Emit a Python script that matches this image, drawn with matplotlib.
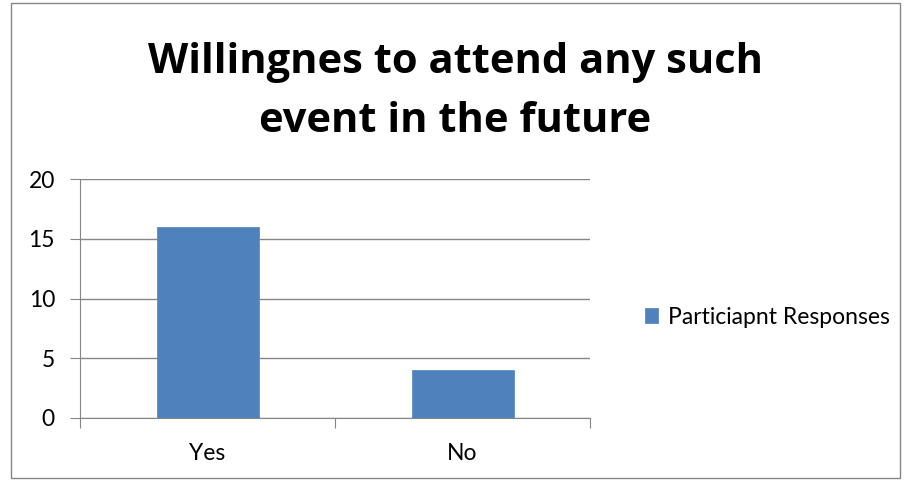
import matplotlib.pyplot as plt
from matplotlib.patches import Rectangle

plt.rcParams['font.family'] = ['Lato', 'DejaVu Sans']

categories = ['Yes', 'No']
responses = [16, 4]
series_name = 'Particiapnt Responses'
title = 'Willingnes to attend any such\nevent in the future'
y_ticks = [0, 5, 10, 15, 20]

bar_color = '#4f81bd'
grid_color = '#868686'

fig = plt.figure(figsize=(9.06, 4.8), dpi=100)
# chart border
fig.patches.append(Rectangle((11 / 906, 2 / 480), 889 / 906, 475 / 480, transform=fig.transFigure,
                             fill=False, edgecolor=grid_color, linewidth=1))

ax = fig.add_axes([80 / 906, 1 - 418 / 480, 510 / 906, 239 / 480])
x = list(range(len(categories)))
ax.bar(x, responses, width=0.4, color=bar_color, edgecolor='#5b8cc6', linewidth=0.6,
       label=series_name, zorder=3)

ax.set_xlim(-0.5, len(categories) - 0.5)
ax.set_ylim(0, 20)
ax.set_yticks(y_ticks)
ax.set_yticklabels([str(v) for v in y_ticks], fontsize=16.5)
ax.yaxis.grid(True, color=grid_color, linewidth=1)
ax.set_axisbelow(True)

# category ticks sit on the boundaries
ax.set_xticks([i - 0.5 for i in range(len(categories) + 1)], minor=False)
ax.set_xticklabels([''] * (len(categories) + 1))
ax.set_xticks(x, minor=True)
ax.set_xticklabels(categories, minor=True, fontsize=16.5)
ax.tick_params(axis='x', which='minor', length=0, pad=18)
ax.tick_params(axis='x', which='major', length=7, direction='out', color=grid_color)
ax.tick_params(axis='y', length=7, direction='out', color=grid_color, pad=11)

for s in ['top', 'right']:
    ax.spines[s].set_visible(False)
ax.spines['left'].set_color(grid_color)
ax.spines['bottom'].set_color(grid_color)

fig.text(455 / 906, 1 - 92 / 480, title, ha='center', va='center', fontsize=30,
         fontweight='bold', linespacing=1.55, family=['Open Sans', 'DejaVu Sans'])

fig.legend(loc='center left', bbox_to_anchor=(624 / 906, 1 - 317 / 480), frameon=False,
           fontsize=16.5, handlelength=0.6, handleheight=0.6, handletextpad=0.4)

fig.savefig('out.png', dpi=100)
